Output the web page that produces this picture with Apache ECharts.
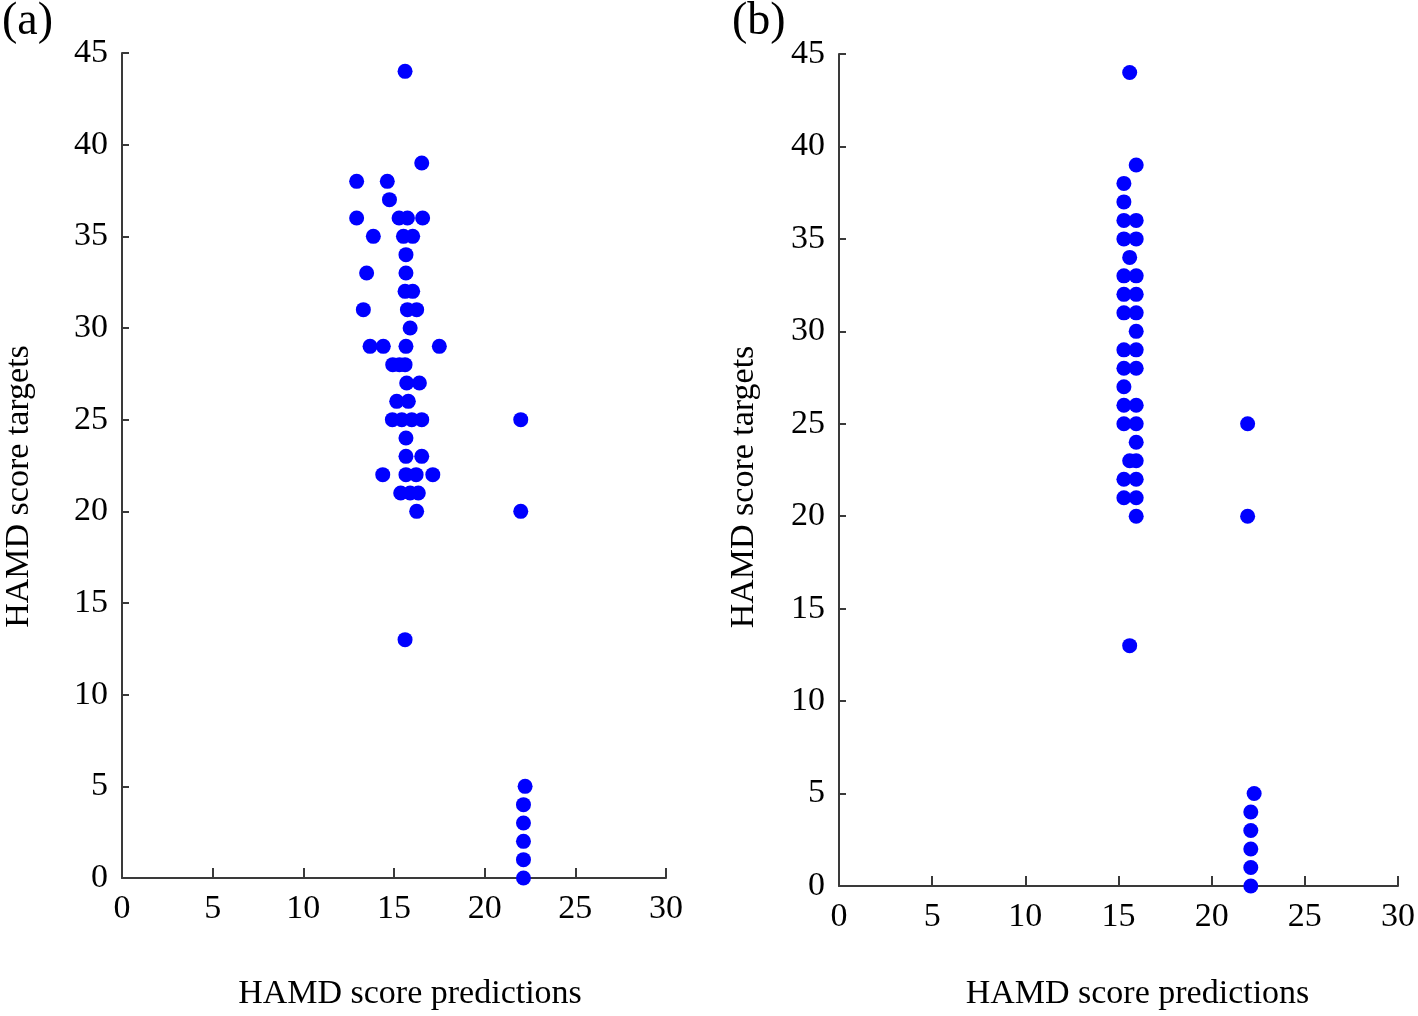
<!DOCTYPE html>
<html>
<head>
<meta charset="utf-8">
<script src="https://cdn.jsdelivr.net/npm/echarts@6/dist/echarts.min.js"></script>
<style>
html,body{margin:0;padding:0;background:#fff;}
#chart{width:1418px;height:1016px;}
</style>
</head>
<body>
<div id="chart"></div>
<script>
// Panel (a): HAMD score predictions (x) vs targets (y)
const predA = [15.61, 16.53, 12.94, 14.63, 14.75, 12.94, 15.28, 15.74, 16.58, 13.86, 15.52, 16.03,
  15.66, 13.49, 15.66, 15.61, 16.03, 13.31, 15.74, 16.25, 15.89, 13.68, 14.41, 15.66, 17.5,
  14.93, 15.3, 15.61, 15.70, 16.40, 15.15, 15.79, 14.91, 15.43, 15.98, 16.53, 15.66, 15.66, 16.53,
  14.38, 15.66, 16.22, 17.14, 15.37, 15.89, 16.34, 16.25, 15.61,
  21.99, 21.99, 22.23, 22.14, 22.14, 22.14, 22.14, 22.14];
const targA = [44, 39, 38, 38, 37, 36, 36, 36, 36, 35, 35, 35,
  34, 33, 33, 32, 32, 31, 31, 31, 30, 29, 29, 29, 29,
  28, 28, 28, 27, 27, 26, 26, 25, 25, 25, 25, 24, 23, 23,
  22, 22, 22, 22, 21, 21, 21, 20, 13,
  25, 20, 5, 4, 3, 2, 1, 0];

// Panel (b)
const predB = [15.6, 15.95, 15.29, 15.29, 15.29, 15.95, 15.29, 15.95, 15.6, 15.29, 15.95,
  15.29, 15.95, 15.29, 15.95, 15.95, 15.29, 15.95, 15.29, 15.95, 15.29, 15.29, 15.95,
  15.29, 15.95, 15.95, 15.6, 15.95, 15.29, 15.95, 15.29, 15.95, 15.95, 15.6,
  21.93, 21.93, 22.28, 22.1, 22.1, 22.1, 22.1, 22.1];
const targB = [44, 39, 38, 37, 36, 36, 35, 35, 34, 33, 33,
  32, 32, 31, 31, 30, 29, 29, 28, 28, 27, 26, 26,
  25, 25, 24, 23, 23, 22, 22, 21, 21, 20, 13,
  25, 20, 5, 4, 3, 2, 1, 0];

const panelLabels = ['(a)', '(b)'];
const xTitle = 'HAMD score predictions';
const yTitle = 'HAMD score targets';

const FONT = "'Liberation Serif', 'Times New Roman', serif";
const pairs = (xs, ys) => xs.map((x, i) => [x, ys[i]]);

function xAx(gi, gap, shift) {
  return {
    gridIndex: gi, type: 'value', min: 0, max: 30, interval: 5,
    name: xTitle, nameLocation: 'middle', nameGap: gap,
    nameTextStyle: {fontFamily: FONT, fontSize: 34, color: '#000', padding: [0, 0, 0, shift]},
    axisLine: {lineStyle: {color: '#3a3a3a', width: 2}},
    axisTick: {inside: true, length: 10, lineStyle: {color: '#3a3a3a', width: 2}},
    axisLabel: {fontFamily: FONT, fontSize: 34, color: '#000', margin: 14},
    splitLine: {show: false}
  };
}
function yAx(gi, gap, shift) {
  return {
    gridIndex: gi, type: 'value', min: 0, max: 45, interval: 5,
    name: yTitle, nameLocation: 'middle', nameGap: gap,
    nameTextStyle: {fontFamily: FONT, fontSize: 34, color: '#000', padding: [0, shift, 0, 0]},
    axisLine: {lineStyle: {color: '#3a3a3a', width: 2}},
    axisTick: {inside: true, length: 7, lineStyle: {color: '#3a3a3a', width: 2}},
    axisLabel: {fontFamily: FONT, fontSize: 34, color: '#000', margin: 14},
    splitLine: {show: false}
  };
}

const chart = echarts.init(document.getElementById('chart'));
chart.setOption({
  backgroundColor: '#fff',
  animation: false,
  title: [
    {text: panelLabels[0], left: -3, top: -6, textStyle: {fontFamily: FONT, fontSize: 46, fontWeight: 'normal', color: '#000'}},
    {text: panelLabels[1], left: 727, top: -6, textStyle: {fontFamily: FONT, fontSize: 46, fontWeight: 'normal', color: '#000'}}
  ],
  grid: [
    {left: 122, top: 53, width: 544, height: 828},
    {left: 839, top: 54, width: 563, height: 837}
  ],
  xAxis: [xAx(0, 99, 32), xAx(1, 91, 38)],
  yAxis: [yAx(0, 86, 42), yAx(1, 78, 34)],
  series: [
    {type: 'scatter', xAxisIndex: 0, yAxisIndex: 0, data: pairs(predA, targA),
      symbol: 'circle', symbolSize: 15, clip: false, itemStyle: {color: '#0000ff', opacity: 1}},
    {type: 'scatter', xAxisIndex: 1, yAxisIndex: 1, data: pairs(predB, targB),
      symbol: 'circle', symbolSize: 15, clip: false, itemStyle: {color: '#0000ff', opacity: 1}}
  ]
});
</script>
</body>
</html>
